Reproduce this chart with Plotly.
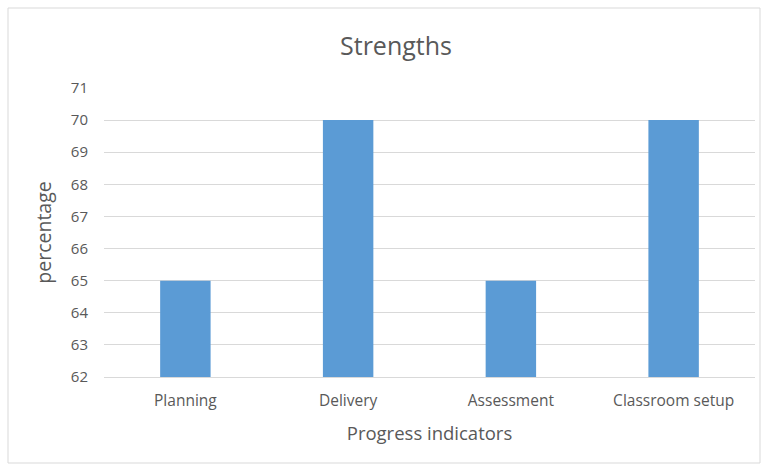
import plotly.graph_objects as go

categories = ["Planning", "Delivery", "Assessment", "Classroom setup"]
values = [65, 70, 65, 70]
y_ticks = [62, 63, 64, 65, 66, 67, 68, 69, 70, 71]

L, R, T, B = 104, 13, 88, 90
W, H = 768, 467
pw, ph = W - L - R, H - T - B

def px_x(x):
    return (x - L) / pw

def px_y(y):
    return (H - B - y) / ph

FONT = "Open Sans, Lato, sans-serif"

fig = go.Figure()
fig.add_trace(go.Bar(x=categories, y=values, marker=dict(color="#5B9BD5", line=dict(width=0)),
                     width=0.31))

fig.update_layout(
    width=W, height=H,
    margin=dict(l=L, r=R, t=T, b=B),
    paper_bgcolor="white", plot_bgcolor="white",
    font=dict(family=FONT, color="#595959", size=15),
    showlegend=False,
    title=dict(text="Strengths", x=px_x(396), xref="paper", xanchor="center",
               y=1 - 46 / H, yref="container", yanchor="middle",
               font=dict(size=25, color="#595959")),
    xaxis=dict(title=dict(text="Progress indicators", font=dict(size=18.5), standoff=17),
               showgrid=False, showline=True, linecolor="#D9D9D9", ticks="",
               tickfont=dict(size=15.5), ticklabelstandoff=9),
    yaxis=dict(title=dict(text="percentage", font=dict(size=19.5), standoff=14),
               range=[62, 71], tickvals=y_ticks, showgrid=True, gridcolor="#D9D9D9",
               zeroline=False, ticks="", tickfont=dict(size=15), ticklabelstandoff=15),
    bargap=0.69,
)

fig.add_shape(type="rect", xref="paper", yref="paper",
              x0=px_x(8), x1=px_x(760), y0=px_y(463), y1=px_y(8),
              line=dict(color="#D9D9D9", width=1), fillcolor="rgba(0,0,0,0)", layer="below")

fig.write_html("out.html", config={"displayModeBar": False},
               post_script="document.body.style.margin='0';document.body.style.overflow='hidden';")
